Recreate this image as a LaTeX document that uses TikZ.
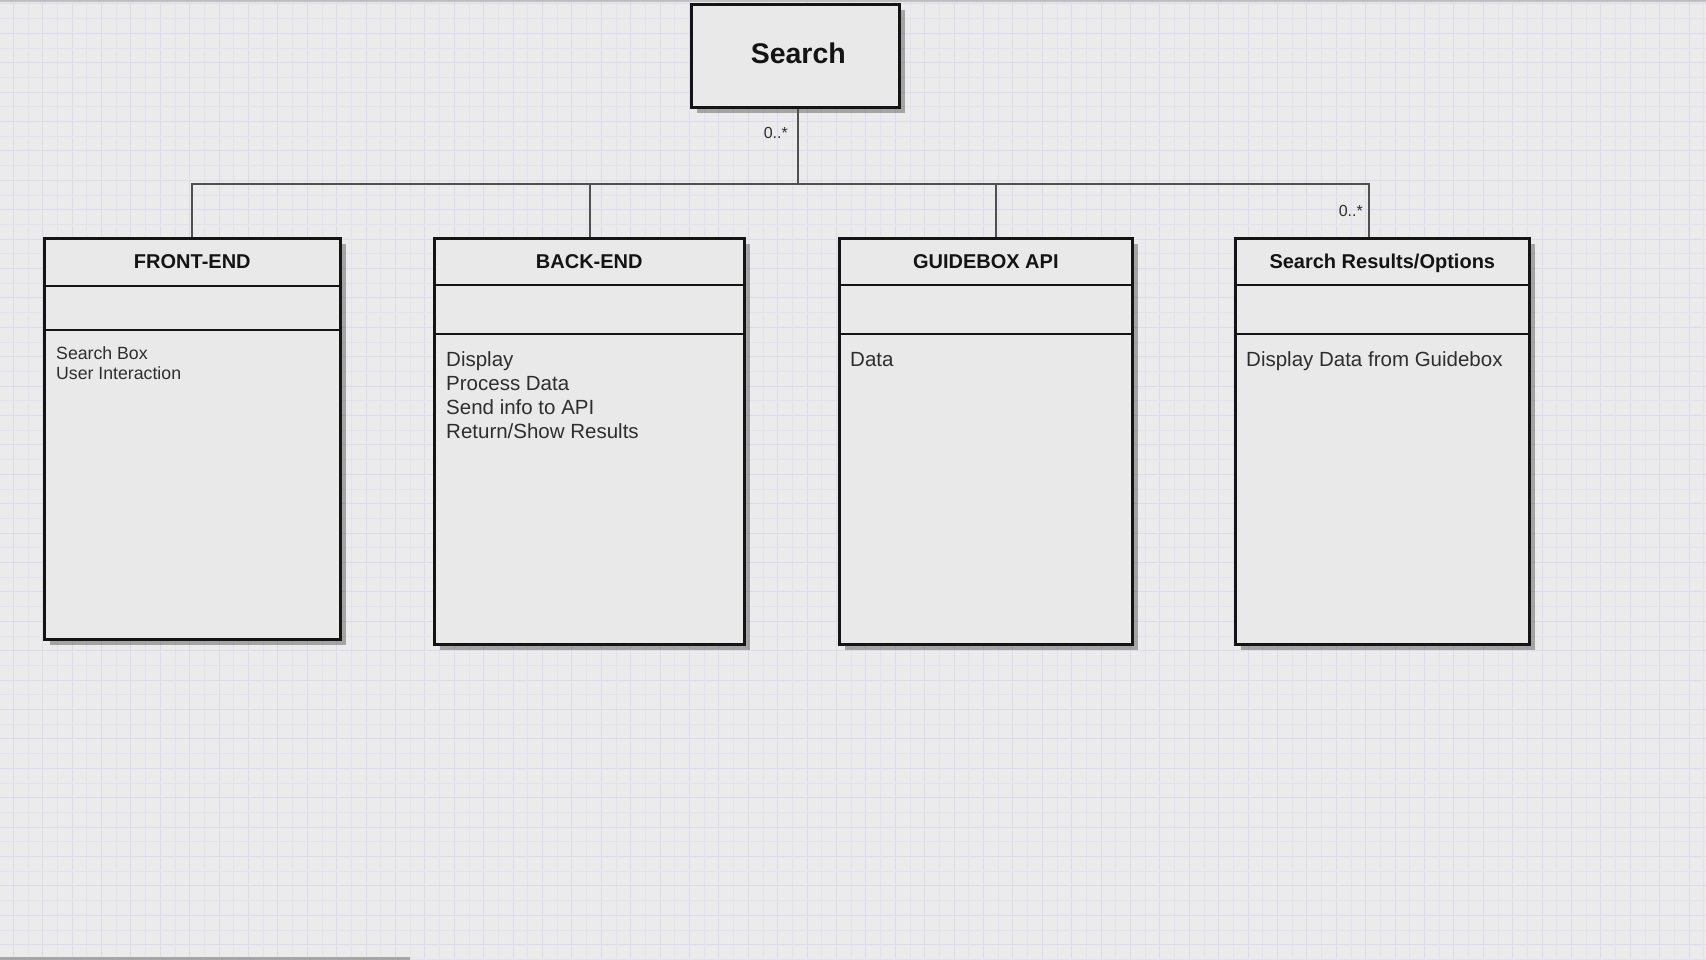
\documentclass[tikz,border=0pt]{standalone}
\usepackage{fontspec}
\setmainfont{Liberation Sans}
\usetikzlibrary{shadows}
\definecolor{bgcol}{HTML}{EBEBEB}
\definecolor{gridminor}{HTML}{E3E2EE}
\definecolor{gridmajor}{HTML}{DCDAEC}
\definecolor{boxfill}{HTML}{E9E9E9}
\definecolor{conncol}{HTML}{505050}
\definecolor{txtcol}{HTML}{2E2E2E}
\begin{document}
\begin{tikzpicture}[x=1pt,y=-1pt,
  umlbox/.style={draw=black!92, line width=2.6pt, fill=boxfill, inner sep=0pt, anchor=north west,
    drop shadow={shadow xshift=6pt, shadow yshift=-6pt, fill=black, opacity=0.3}},
  divider/.style={draw=black!92, line width=2.4pt},
  conn/.style={draw=conncol, line width=2.2pt},
  head/.style={font=\fontsize{20}{24}\selectfont\bfseries, text=black!92, anchor=base, inner sep=0pt},
  body/.style={font=\fontsize{20.5}{24}\selectfont, text=txtcol, anchor=base west, inner sep=0pt},
  smallbody/.style={font=\fontsize{17.7}{20}\selectfont, text=txtcol, anchor=base west, inner sep=0pt},
  mult/.style={font=\fontsize{16}{18}\selectfont, text=txtcol, anchor=base east, inner sep=0pt}]
\useasboundingbox (0,0) rectangle (1706,960);
% background and grid
\fill[bgcol] (0,0) rectangle (1706,960);
\foreach \k in {0,...,115} {
  \pgfmathsetmacro{\xx}{13.3+14.7*\k}
  \pgfmathtruncatemacro{\ev}{mod(\k,2)}
  \ifnum\ev=0 \draw[gridmajor, line width=1.1pt] (\xx,0) -- (\xx,960);
  \else \draw[gridminor, line width=0.9pt] (\xx,0) -- (\xx,960); \fi
}
\foreach \k in {-2,...,63} {
  \pgfmathsetmacro{\yy}{33.3+14.7*\k}
  \pgfmathtruncatemacro{\ev}{mod(abs(\k),2)}
  \ifnum\ev=0 \draw[gridmajor, line width=1.1pt] (0,\yy) -- (1706,\yy);
  \else \draw[gridminor, line width=0.9pt] (0,\yy) -- (1706,\yy); \fi
}
\fill[black!25] (0,0) rectangle (1706,2);
\fill[black!35] (0,957) rectangle (410,960);

% Search box
\node[umlbox, minimum width=208pt, minimum height=103pt] (search) at (690,3) {};
\node[font=\fontsize{28.5}{32}\selectfont\bfseries, text=black!92, anchor=base, inner sep=0pt] (searchlbl) at ([xshift=3pt]search.north |- 0,64) {Search};

% class boxes
\node[umlbox, minimum width=296pt, minimum height=401pt] (fe) at (43,237) {};
\node[umlbox, minimum width=310pt, minimum height=406pt] (be) at (433,237) {};
\node[umlbox, minimum width=293pt, minimum height=406pt] (gb) at (838,237) {};
\node[umlbox, minimum width=294pt, minimum height=406pt] (sr) at (1234,237) {};

% dividers
\draw[divider] (fe.west |- 0,286) -- (fe.east |- 0,286);
\draw[divider] (fe.west |- 0,330) -- (fe.east |- 0,330);
\draw[divider] (be.west |- 0,285) -- (be.east |- 0,285);
\draw[divider] (be.west |- 0,334) -- (be.east |- 0,334);
\draw[divider] (gb.west |- 0,285) -- (gb.east |- 0,285);
\draw[divider] (gb.west |- 0,334) -- (gb.east |- 0,334);
\draw[divider] (sr.west |- 0,285) -- (sr.east |- 0,285);
\draw[divider] (sr.west |- 0,334) -- (sr.east |- 0,334);

% headers
\node[head] (fehead) at (fe.north |- 0,269) {FRONT-END};
\node[head] (behead) at (be.north |- 0,269) {BACK-END};
\node[head] (gbhead) at (gb.north |- 0,269) {GUIDEBOX API};
\node[head] (srhead) at (sr.north |- 0,269) {Search Results/Options};

% body texts
\node[smallbody] (fe1) at (56,359) {Search Box};
\node[smallbody] (fe2) at (56,379) {User Interaction};
\node[body] (be1) at (446,366) {Display};
\node[body] (be2) at (446,390) {Process Data};
\node[body] (be3) at (446,414) {Send info to API};
\node[body] (be4) at (446,438) {Return/Show Results};
\node[body] (gb1) at (850,366) {Data};
\node[body] (sr1) at (1246,366) {Display Data from Guidebox};

% connectors
\coordinate (busy) at (0,184);
\draw[conn] ([xshift=3pt]search.south) -- ([xshift=3pt]search.south |- busy) -| (fe.north);
\draw[conn] ([xshift=3pt]search.south |- busy) -| ([xshift=1pt]be.north);
\draw[conn] ([xshift=3pt]search.south |- busy) -| ([xshift=10.5pt]gb.north);
\draw[conn] ([xshift=3pt]search.south |- busy) -| ([xshift=-13pt]sr.north);

% multiplicities
\node[mult] (m1) at (788,139) {0..*};
\node[mult] (m2) at (1363,217) {0..*};
\end{tikzpicture}
\end{document}
